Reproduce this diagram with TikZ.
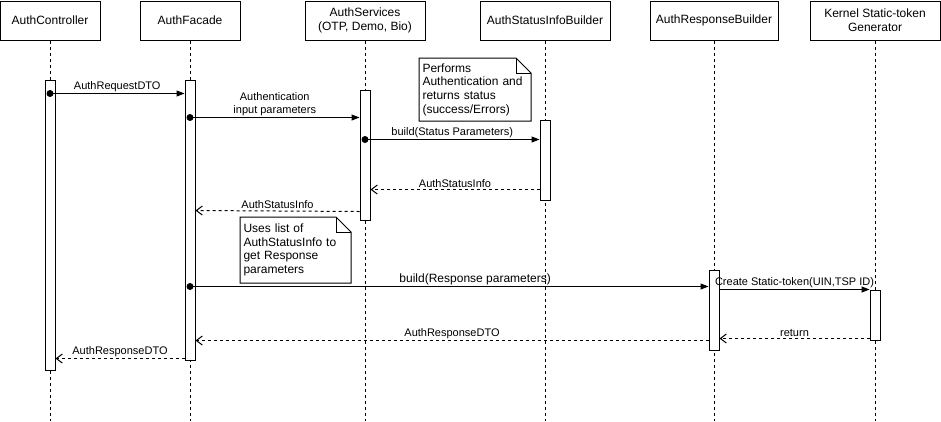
\documentclass[tikz,border=0pt]{standalone}
\usepackage{fontspec}
\setmainfont{Liberation Sans}
\usetikzlibrary{arrows.meta,positioning}

\tikzset{
  head/.style={rectangle, draw, fill=white, minimum width=100, minimum height=39, align=center, inner sep=2pt, font=\fontsize{12}{14}\selectfont},
  lifeline/.style={dash pattern=on 3pt off 3pt},
  act/.style={rectangle, draw, fill=white, minimum width=10, inner sep=0pt},
  msg/.style={-{Triangle[length=8pt,width=6pt]}},
  ret/.style={dash pattern=on 3pt off 3pt, -{Straight Barb[length=6pt,width=9pt]}},
  lbl/.style={midway, above, inner sep=1.5pt, font=\fontsize{11}{13}\selectfont},
  startdot/.style={circle, fill, minimum size=7, inner sep=0pt},
  note/.style={rectangle, anchor=north west, align=left, inner sep=3pt, font=\fontsize{12}{13.7}\selectfont}
}

\begin{document}
\begin{tikzpicture}[x=1pt, y=-1pt, line width=1pt]
    \useasboundingbox (0,0) rectangle (941,421);
    \coordinate (bottom) at (0,421);

    % Participants
    \node[head] (ctrl) at (50,20.5) {AuthController};
    \node[head] (facade) at (190,20.5) {AuthFacade};
    \node[head, minimum width=120] (serv) at (365,20.5) {AuthServices\\(OTP, Demo, Bio)};
    \node[head, minimum width=130] (status) at (545,20.5) {AuthStatusInfoBuilder};
    \node[head, minimum width=128] (resp) at (714,20.5) {AuthResponseBuilder};
    \node[head, minimum width=130] (kernel) at (875,20.5) {Kernel Static-token\\Generator};

    % Lifelines
    \foreach \p in {ctrl, facade, serv, status, resp, kernel}
        \draw[lifeline] (\p.south) -- (\p.south |- bottom);

    % Activations
    \node[act, minimum height=290] (actCtrl) at (50,225) {};
    \node[act, minimum height=280] (actFacade) at (190,220) {};
    \node[act, minimum height=130] (actServ) at (365,155) {};
    \node[act, minimum height=80] (actStatus) at (545,160) {};
    \node[act, minimum height=80] (actResp) at (714,310) {};
    \node[act, minimum height=50] (actKernel) at (875,315) {};

    % Notes
    \node[note, minimum width=111, minimum height=62, text width=105] (noteAuth) at (419,58) {Performs\\Authentication and\\returns status\\(success/Errors)};
    \draw (noteAuth.north west) -- ([xshift=-15]noteAuth.north east) -- ([yshift=-15]noteAuth.north east) -- (noteAuth.south east) -- (noteAuth.south west) -- cycle;
    \draw ([xshift=-15]noteAuth.north east) -- ([xshift=-15,yshift=-15]noteAuth.north east) -- ([yshift=-15]noteAuth.north east);

    \node[note, minimum width=110, minimum height=65, text width=104] (noteResp) at (240,217) {Uses list of\\AuthStatusInfo to\\get Response\\parameters};
    \draw (noteResp.north west) -- ([xshift=-15]noteResp.north east) -- ([yshift=-15]noteResp.north east) -- (noteResp.south east) -- (noteResp.south west) -- cycle;
    \draw ([xshift=-15]noteResp.north east) -- ([xshift=-15,yshift=-15]noteResp.north east) -- ([yshift=-15]noteResp.north east);

    % Messages
    \draw[msg] ([yshift=-14]actCtrl.north) node[startdot] {} -- ([yshift=-14]actFacade.north west) node[lbl] {AuthRequestDTO};
    \draw[msg] ([yshift=-38]actFacade.north) node[startdot] {} -- ([yshift=-28]actServ.north west) node[lbl, align=center] {Authentication\\input parameters};
    \draw[msg] ([yshift=-50]actServ.north) node[startdot] {} -- ([yshift=-20]actStatus.north west) node[lbl] {build(Status Parameters)};
    \draw[ret] ([yshift=11]actStatus.south west) -- ([yshift=31]actServ.south east) node[lbl] {AuthStatusInfo};
    \draw[ret] ([yshift=9]actServ.south west) -- ([yshift=-131]actFacade.north east) node[lbl] {AuthStatusInfo};
    \draw[msg] ([yshift=-207]actFacade.north) node[startdot] {} -- ([yshift=-17]actResp.north west) node[lbl, pos=0.55, font=\fontsize{12}{14}\selectfont] {build(Response parameters)};
    \draw[msg] ([yshift=-20]actResp.north east) -- (actKernel.north west) node[lbl] {Create Static-token(UIN,TSP ID)};
    \draw[ret] ([yshift=2]actKernel.south west) -- ([yshift=12]actResp.south east) node[lbl] {return};
    \draw[ret] ([yshift=10]actResp.south west) -- ([yshift=20]actFacade.south east) node[lbl] {AuthResponseDTO};
    \draw[ret] ([yshift=2]actFacade.south west) -- ([yshift=12]actCtrl.south east) node[lbl] {AuthResponseDTO};
\end{tikzpicture}
\end{document}
